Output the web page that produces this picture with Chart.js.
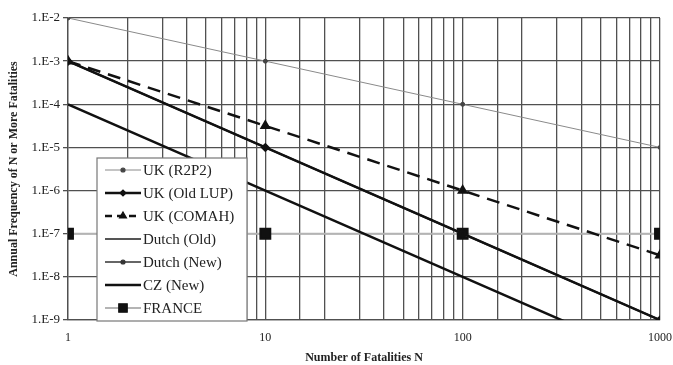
<!DOCTYPE html>
<html>
<head>
<meta charset="utf-8">
<script src="https://cdn.jsdelivr.net/npm/chart.js@4/dist/chart.umd.min.js"></script>
<style>
  html, body { margin: 0; padding: 0; background: #fff; }
  #wrap { width: 673px; height: 365px; position: relative; }
</style>
</head>
<body>
<div id="wrap"><canvas id="fnChart" width="673" height="365"></canvas></div>
<script>
// Number of fatalities N (x values)
const fatalities = [1, 10, 100, 1000];

// Frequency criteria for each country
const ukR2P2 = [1e-2, 1e-3, 1e-4, 1e-5];
const ukOldLup = [1e-3, 1e-5, 1e-7, 1e-9];
const ukComah = [1e-3, 3.16e-5, 1e-6, 3.16e-8];
const dutchOld = [1e-3, 1e-5, 1e-7, 1e-9];
const dutchNew = [1e-3, 1e-5, 1e-7, 1e-9];
const czNew = [1e-4, 1e-6, 1e-8, 1e-10];
const france = [1e-7, 1e-7, 1e-7, 1e-7];

const seriesNames = ['UK (R2P2)', 'UK (Old LUP)', 'UK (COMAH)', 'Dutch (Old)', 'Dutch (New)', 'CZ (New)', 'FRANCE'];

const serif = '"Liberation Serif", "Times New Roman", serif';

// marker sizes used in the legend box
const legendRadius = [2, 3, 4, 0, 2, 0, 6];

function toPoints(values) {
    return fatalities.map((n, i) => ({ x: n, y: values[i] }));
}

function isDecade(v) {
    const e = Math.log10(v);
    return Math.abs(e - Math.round(e)) < 1e-6;
}

// Legend drawn inside the plot, bottom left
const boxLegend = {
    id: 'boxLegend',
    afterDraw(c) {
        const g = c.ctx;
        const left = 97, top = 158, w = 150, h = 163;
        g.save();
        g.fillStyle = '#fff';
        g.fillRect(left, top, w, h);
        g.strokeStyle = '#777';
        g.lineWidth = 1.2;
        g.strokeRect(left, top, w, h);
        c.data.datasets.forEach((ds, i) => {
            const y = 170 + i * 23;
            g.save();
            g.strokeStyle = ds.borderColor;
            g.lineWidth = ds.borderWidth;
            g.setLineDash(ds.borderDash ? [7, 5] : []);
            g.beginPath();
            g.moveTo(105, y);
            g.lineTo(141, y);
            g.stroke();
            g.restore();
            if (legendRadius[i] > 0) {
                g.save();
                g.fillStyle = ds.pointBackgroundColor;
                g.strokeStyle = ds.pointBorderColor;
                Chart.helpers.drawPoint(g, {
                    pointStyle: ds.pointStyle,
                    radius: legendRadius[i],
                    rotation: 0,
                    borderWidth: 1
                }, 123, y);
                g.restore();
            }
            g.fillStyle = '#222';
            g.font = '15px ' + serif;
            g.textBaseline = 'middle';
            g.fillText(ds.label, 143, y + 1);
        });
        g.restore();
    }
};

const ctx = document.getElementById('fnChart');
const chart = new Chart(ctx, {
    type: 'line',
    data: {
        datasets: [
            {
                label: seriesNames[0], data: toPoints(ukR2P2),
                borderColor: '#8a8a8a', borderWidth: 1,
                pointStyle: 'circle', pointRadius: 2,
                pointBackgroundColor: '#444', pointBorderColor: '#444'
            },
            {
                label: seriesNames[1], data: toPoints(ukOldLup),
                borderColor: '#111', borderWidth: 2.5,
                pointStyle: 'rectRot', pointRadius: 3,
                pointBackgroundColor: '#111', pointBorderColor: '#111'
            },
            {
                label: seriesNames[2], data: toPoints(ukComah),
                borderColor: '#111', borderWidth: 2.5, borderDash: [13, 8],
                pointStyle: 'triangle', pointRadius: 4,
                pointBackgroundColor: '#111', pointBorderColor: '#111'
            },
            {
                label: seriesNames[3], data: toPoints(dutchOld),
                borderColor: '#555', borderWidth: 2,
                pointStyle: 'circle', pointRadius: 0,
                pointBackgroundColor: '#555', pointBorderColor: '#555'
            },
            {
                label: seriesNames[4], data: toPoints(dutchNew),
                borderColor: '#333', borderWidth: 1.5,
                pointStyle: 'circle', pointRadius: 2,
                pointBackgroundColor: '#333', pointBorderColor: '#333'
            },
            {
                label: seriesNames[5], data: toPoints(czNew),
                borderColor: '#111', borderWidth: 2.5, clip: 0,
                pointStyle: 'circle', pointRadius: 0,
                pointBackgroundColor: '#111', pointBorderColor: '#111'
            },
            {
                label: seriesNames[6], data: toPoints(france),
                borderColor: '#b4b4b4', borderWidth: 2,
                pointStyle: 'rect', pointRadius: 7,
                pointBackgroundColor: '#111', pointBorderColor: '#111'
            }
        ]
    },
    options: {
        responsive: false,
        animation: false,
        layout: { padding: { left: 0, right: 0, top: 18, bottom: 0 } },
        plugins: {
            legend: { display: false },
            tooltip: { enabled: false }
        },
        elements: { line: { tension: 0 } },
        scales: {
            x: {
                type: 'logarithmic',
                min: 1,
                max: 1000,
                afterFit(scale) {
                    scale.height = 45;
                    scale.paddingLeft = 0;
                    scale.paddingRight = 13;
                },
                grid: { color: '#505050', lineWidth: 1.3, drawTicks: false },
                border: { color: '#505050', width: 1.3 },
                ticks: {
                    autoSkip: false,
                    maxRotation: 0,
                    padding: 11,
                    color: '#222',
                    font: { family: serif, size: 12 },
                    callback: v => isDecade(v) ? String(Math.round(v)) : ''
                },
                title: {
                    display: true,
                    text: 'Number of Fatalities N',
                    color: '#222',
                    padding: { top: 2, bottom: 0 },
                    font: { family: serif, size: 12, weight: 'bold' }
                }
            },
            y: {
                type: 'logarithmic',
                min: 1e-9,
                max: 1e-2,
                afterFit(scale) { scale.width = 68; },
                afterBuildTicks(scale) {
                    scale.ticks = scale.ticks.filter(t => isDecade(t.value));
                },
                grid: { color: '#505050', lineWidth: 1.3, drawTicks: true, tickLength: 5 },
                border: { color: '#505050', width: 1.3 },
                ticks: {
                    padding: 3,
                    color: '#222',
                    font: { family: serif, size: 13 },
                    callback: v => '1.E-' + Math.round(-Math.log10(v))
                },
                title: {
                    display: true,
                    text: 'Annual Frequency of N or More Fatalities',
                    color: '#222',
                    padding: { top: 7, bottom: 0 },
                    font: { family: serif, size: 12, weight: 'bold' }
                }
            }
        }
    },
    plugins: [boxLegend]
});
</script>
</body>
</html>
